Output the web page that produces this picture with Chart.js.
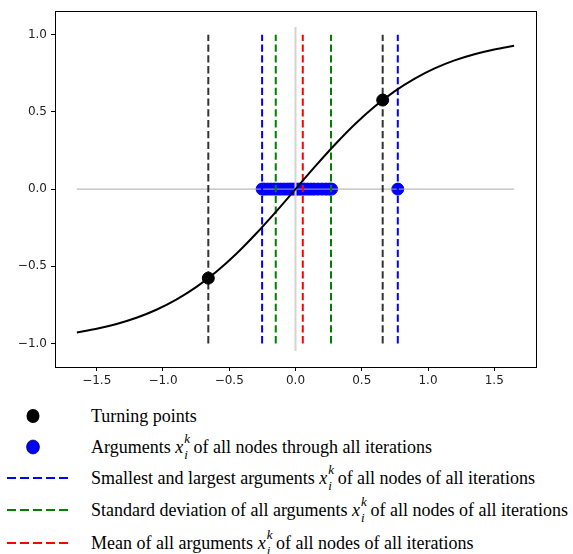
<!DOCTYPE html>
<html>
<head>
<meta charset="utf-8">
<script src="https://cdn.jsdelivr.net/npm/chart.js@4"></script>
<style>
  body { margin: 0; background: #fff; }
  #wrap { position: relative; width: 573px; height: 554px; }
  #chart { position: absolute; left: 0; top: 0; }
  .row { position: absolute; left: 0; width: 573px; height: 30px; font-family: "Liberation Serif", serif; font-size: 18px; color: #000; white-space: nowrap; }
  .row .txt { position: absolute; left: 91px; top: 50%; transform: translateY(-50%); line-height: 1.2; margin-top: 1px; }
  .row svg { position: absolute; left: 0; top: 0; }
  .ss { display: inline-block; position: relative; width: 0.45em; height: 1em; font-size: 0.72em; }
  .ss .p { position: absolute; left: 1px; top: -0.7em; }
  .ss .b { position: absolute; left: 1px; top: 0.5em; }
</style>
</head>
<body>
<div id="wrap">
  <canvas id="chart" width="573" height="390"></canvas>
  <div class="row" style="top:401px"><svg width="80" height="30"><ellipse cx="33" cy="15" rx="6.5" ry="7" fill="#000"/></svg><span class="txt">Turning points</span></div>
  <div class="row" style="top:432px"><svg width="80" height="30"><ellipse cx="33" cy="15" rx="6.5" ry="7" fill="#0000ff" stroke="#000" stroke-width="0.6"/></svg><span class="txt">Arguments <i>x</i><span class="ss"><i class="p">k</i><i class="b">i</i></span> of all nodes through all iterations</span></div>
  <div class="row" style="top:463px"><svg width="80" height="30"><line x1="7" y1="15" x2="71" y2="15" stroke="#0000ff" stroke-width="2" stroke-dasharray="9,4"/></svg><span class="txt">Smallest and largest arguments <i>x</i><span class="ss"><i class="p">k</i><i class="b">i</i></span> of all nodes of all iterations</span></div>
  <div class="row" style="top:495px"><svg width="80" height="30"><line x1="7" y1="15" x2="71" y2="15" stroke="#008000" stroke-width="2" stroke-dasharray="9,4"/></svg><span class="txt">Standard deviation of all arguments <i>x</i><span class="ss"><i class="p">k</i><i class="b">i</i></span> of all nodes of all iterations</span></div>
  <div class="row" style="top:528px"><svg width="80" height="30"><line x1="7" y1="15" x2="71" y2="15" stroke="#ff0000" stroke-width="2" stroke-dasharray="9,4"/></svg><span class="txt">Mean of all arguments <i>x</i><span class="ss"><i class="p">k</i><i class="b">i</i></span> of all nodes of all iterations</span></div>
</div>
<script>
// curve
const curveX = [-1.65, -1.5, -1.35, -1.2, -1.05, -0.9, -0.75, -0.6, -0.45, -0.3, -0.15, 0, 0.15, 0.3, 0.45, 0.6, 0.75, 0.9, 1.05, 1.2, 1.35, 1.5, 1.65];
const curveY = [-0.929, -0.905, -0.874, -0.834, -0.782, -0.716, -0.635, -0.537, -0.422, -0.291, -0.149, 0, 0.149, 0.291, 0.422, 0.537, 0.635, 0.716, 0.782, 0.834, 0.874, 0.905, 0.929];

const turningX = [-0.658, 0.658];
const turningY = [-0.577, 0.577];

const argsX = [-0.252, -0.235, -0.21, -0.185, -0.16, -0.135, -0.11, -0.085, -0.06, -0.04, -0.02, 0, 0.02, 0.04, 0.065, 0.09, 0.115, 0.14, 0.17, 0.2, 0.23, 0.255, 0.272, 0.772];

const minMaxX = [-0.252, 0.772];
const stdX = [-0.149, 0.268];
const meanX = [0.055];

const xTicks = [-1.5, -1.0, -0.5, 0.0, 0.5, 1.0, 1.5];
const yTicks = [-1.0, -0.5, 0.0, 0.5, 1.0];

const fmt = v => (v < 0 ? '\u2212' : '') + Math.abs(v).toFixed(1);

function vline(x, color) {
  return {
    data: [{x: x, y: -1}, {x: x, y: 1}],
    showLine: true, borderColor: color, borderWidth: 2, borderDash: [7.3, 3.5],
    pointRadius: 0, fill: false
  };
}

const datasets = [];
datasets.push({
  data: turningX.map((x, i) => ({x: x, y: turningY[i]})),
  backgroundColor: '#000', borderColor: '#000', pointRadius: 6, showLine: false
});
datasets.push({
  data: curveX.map((x, i) => ({x: x, y: curveY[i]})),
  showLine: true, borderColor: '#000', borderWidth: 2, pointRadius: 0,
  cubicInterpolationMode: 'monotone'
});
turningX.forEach(x => datasets.push(vline(x, 'rgba(0,0,0,0.8)')));
minMaxX.forEach(x => datasets.push(vline(x, '#0000ff')));
stdX.forEach(x => datasets.push(vline(x, '#008000')));
meanX.forEach(x => datasets.push(vline(x, '#ff0000')));
datasets.push({
  data: [{x: 0, y: -1.05}, {x: 0, y: 1.05}],
  showLine: true, borderColor: '#d3d3d3', borderWidth: 2, pointRadius: 0
});
datasets.push({
  data: [{x: -1.65, y: 0}, {x: 1.65, y: 0}],
  showLine: true, borderColor: '#aaaaaa', borderWidth: 1, pointRadius: 0
});
datasets.push({
  data: argsX.map(x => ({x: x, y: 0})),
  backgroundColor: '#0000ff', borderColor: '#0000ff', pointRadius: 6, showLine: false
});

const frame = {
  id: 'frame',
  afterDatasetsDraw(chart) {
    const a = chart.chartArea, c = chart.ctx;
    c.save();
    c.strokeStyle = '#000';
    c.lineWidth = 1;
    c.strokeRect(Math.round(a.left) + 0.5, Math.round(a.top) + 0.5, Math.round(a.right - a.left), Math.round(a.bottom - a.top));
    c.restore();
  }
};

new Chart(document.getElementById('chart'), {
  type: 'scatter',
  data: {datasets: datasets},
  options: {
    responsive: false,
    animation: false,
    layout: {padding: {top: 10, right: 37, left: 0, bottom: 0}},
    plugins: {legend: {display: false}, tooltip: {enabled: false}},
    scales: {
      x: {
        type: 'linear', min: -1.815, max: 1.815,
        afterBuildTicks: s => { s.ticks = xTicks.map(v => ({value: v})); },
        afterFit: s => { s.height = 23; },
        border: {display: false},
        grid: {drawOnChartArea: false, drawTicks: true, tickLength: 4, color: '#000'},
        ticks: {color: '#222', font: {family: 'DejaVu Sans', size: 12}, padding: 3, maxRotation: 0, callback: v => fmt(v)}
      },
      y: {
        type: 'linear', min: -1.153, max: 1.153,
        afterBuildTicks: s => { s.ticks = yTicks.map(v => ({value: v})); },
        afterFit: s => { s.width = 55; },
        border: {display: false},
        grid: {drawOnChartArea: false, drawTicks: true, tickLength: 4, color: '#000'},
        ticks: {color: '#222', font: {family: 'DejaVu Sans', size: 12}, padding: 4, callback: v => fmt(v)}
      }
    }
  },
  plugins: [frame]
});
</script>
</body>
</html>
